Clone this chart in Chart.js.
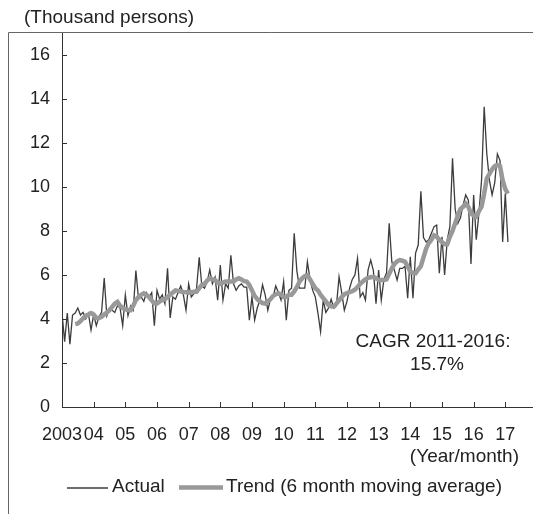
<!DOCTYPE html>
<html>
<head>
<meta charset="utf-8">
<script src="https://cdn.jsdelivr.net/npm/chart.js@4/dist/chart.umd.min.js"></script>
<style>
  body { margin: 0; background: #fff; }
  canvas { display: block; }
</style>
</head>
<body>
<canvas id="chart" width="533" height="514"></canvas>
<script>
// year tick labels (one per January, starting 2003)
const years = ['2003', '04', '05', '06', '07', '08', '09', '10', '11', '12', '13', '14', '15', '16', '17'];
const yTicks = [0, 2, 4, 6, 8, 10, 12, 14, 16];

// monthly actual values, thousand persons (Jan 2003 - Feb 2017)
const actual = [
    4.27, 2.97, 4.27, 2.86, 4.18, 4.27, 4.5, 4.18, 4.3, 4.0, 4.25, 3.5,
    4.2, 3.7, 4.1, 4.3, 5.86, 4.15, 4.5, 4.4, 4.3, 4.6, 4.5, 3.7,
    5.1, 4.15, 4.6, 4.4, 6.2, 4.9, 5.0, 4.8, 5.2, 5.0, 5.2, 3.7,
    5.3, 4.9, 5.1, 4.7, 6.3, 4.05, 5.0, 4.9, 5.2, 5.5, 5.1, 4.4,
    5.6, 5.0, 5.15, 5.4, 6.8, 5.5, 5.4, 5.7, 6.23, 5.6, 5.9, 4.86,
    6.45, 4.86, 5.6, 5.4, 6.9, 5.6, 5.3, 5.5, 5.6, 5.45, 5.45, 3.95,
    5.0, 3.95, 4.5, 4.86, 5.55, 5.1, 4.4, 4.9, 5.0, 5.5, 5.2, 4.86,
    5.7, 3.95, 5.3, 5.4, 7.9, 6.2, 5.4, 5.4, 5.4, 6.6, 5.8, 5.3,
    5.0, 4.27, 3.42, 4.86, 4.3, 4.5, 4.9, 4.5, 4.6, 5.92, 5.2, 4.4,
    4.8, 5.4, 5.8, 6.0, 6.76, 5.0, 5.2, 4.86, 6.23, 6.68, 6.2, 4.7,
    6.23, 4.86, 5.8, 6.1, 8.35, 6.6, 6.2, 5.77, 6.3, 6.3, 6.4, 4.94,
    6.83, 4.94, 7.0, 7.36, 9.8, 7.7, 7.5, 7.6, 7.9, 8.2, 8.27, 6.08,
    7.74, 6.0, 7.6, 8.2, 11.3, 9.0, 8.35, 8.6, 9.18, 9.64, 9.4, 6.5,
    9.64, 7.6, 8.8, 10.3, 13.65, 11.5, 10.3, 9.64, 10.2, 11.5, 11.2, 7.5,
    9.7, 7.5
];

// 6 month moving average (first five months empty)
const trend = [
    null, null, null, null, null, 3.77, 3.8, 3.9, 4.03, 4.15, 4.2, 4.27,
    4.2, 4.05, 4.05, 4.1, 4.2, 4.3, 4.4, 4.55, 4.7, 4.78, 4.6, 4.5,
    4.45, 4.4, 4.4, 4.6, 4.86, 5.0, 5.1, 5.17, 5.1, 5.0, 4.85, 4.7,
    4.7, 4.8, 4.86, 4.9, 5.0, 5.1, 5.2, 5.3, 5.28, 5.25, 5.23, 5.22,
    5.2, 5.22, 5.24, 5.24, 5.4, 5.55, 5.6, 5.75, 5.85, 5.8, 5.77, 5.65,
    5.6, 5.65, 5.7, 5.7, 5.7, 5.7, 5.8, 5.85, 5.8, 5.72, 5.7, 5.55,
    5.3, 5.05, 4.9, 4.8, 4.72, 4.7, 4.8, 4.9, 5.05, 5.12, 5.18, 5.1,
    5.0, 5.0, 5.1, 5.1, 5.25, 5.45, 5.7, 5.85, 5.95, 6.0, 5.8, 5.6,
    5.4, 5.3, 5.1, 4.95, 4.8, 4.64, 4.58, 4.56, 4.7, 4.85, 5.0, 5.12,
    5.18, 5.22, 5.26, 5.33, 5.45, 5.6, 5.7, 5.8, 5.87, 5.9, 5.92, 5.85,
    5.78, 5.77, 5.77, 5.8, 6.05, 6.3, 6.5, 6.62, 6.68, 6.65, 6.6, 6.4,
    6.15, 6.1, 6.08, 6.25, 6.4, 6.8, 7.2, 7.45, 7.6, 7.8, 7.75, 7.6,
    7.5, 7.4, 7.4, 7.74, 8.0, 8.35, 8.7, 9.0, 9.1, 9.25, 9.1, 8.8,
    8.7, 8.65, 8.9, 9.1, 9.7, 10.4, 10.6, 10.8, 10.95, 11.0, 10.95, 10.3,
    9.9, 9.7
];

const FONT = '"Liberation Sans", Arial, sans-serif';
const TEXT = '#222';
const ACTUAL_COLOR = '#3c3c3c';
const TREND_COLOR = '#999999';

// white background, frame, inward ticks, notes and legend
const decor = {
    id: 'decor',
    beforeDraw(chart) {
        const ctx = chart.ctx;
        ctx.save();
        ctx.fillStyle = '#fff';
        ctx.fillRect(0, 0, chart.width, chart.height);
        ctx.restore();
    },
    afterDraw(chart) {
        const { ctx, scales: { x, y } } = chart;
        ctx.save();

        // outer frame (open at right and bottom)
        ctx.strokeStyle = '#666';
        ctx.lineWidth = 1;
        ctx.beginPath();
        ctx.moveTo(8.5, 514);
        ctx.lineTo(8.5, 32.5);
        ctx.lineTo(533, 32.5);
        ctx.stroke();

        // tick marks pointing into the plot
        ctx.strokeStyle = '#333';
        ctx.beginPath();
        yTicks.forEach(v => {
            const py = Math.round(y.getPixelForValue(v)) + 0.5;
            ctx.moveTo(x.left, py);
            ctx.lineTo(x.left + 5, py);
        });
        years.forEach((_, i) => {
            const px = Math.round(x.getPixelForValue(i * 12)) + 0.5;
            ctx.moveTo(px, y.bottom);
            ctx.lineTo(px, y.bottom - 5);
        });
        ctx.stroke();

        ctx.fillStyle = TEXT;
        ctx.font = '19px ' + FONT;
        ctx.textBaseline = 'alphabetic';

        ctx.textAlign = 'left';
        ctx.fillText('(Thousand persons)', 24, 23);

        ctx.textAlign = 'right';
        ctx.fillText('(Year/month)', 519, 462);

        ctx.textAlign = 'center';
        ctx.fillText('CAGR 2011-2016:', 433, 347);
        ctx.fillText('15.7%', 437, 370);

        // legend
        ctx.lineCap = 'butt';
        ctx.strokeStyle = ACTUAL_COLOR;
        ctx.lineWidth = 1.3;
        ctx.beginPath();
        ctx.moveTo(67, 488);
        ctx.lineTo(108, 488);
        ctx.stroke();
        ctx.strokeStyle = TREND_COLOR;
        ctx.lineWidth = 4.5;
        ctx.beginPath();
        ctx.moveTo(179, 487.5);
        ctx.lineTo(223, 487.5);
        ctx.stroke();
        ctx.textAlign = 'left';
        ctx.fillText('Actual', 112, 492);
        ctx.fillText('Trend (6 month moving average)', 226, 492);

        ctx.restore();
    }
};

const ctx = document.getElementById('chart').getContext('2d');
new Chart(ctx, {
    type: 'line',
    data: {
        datasets: [{
            label: 'Trend (6 month moving average)',
            data: trend.map((v, i) => ({ x: i, y: v })),
            borderColor: TREND_COLOR,
            borderWidth: 4.5,
            pointRadius: 0,
            tension: 0,
            order: 0
        }, {
            label: 'Actual',
            data: actual.map((v, i) => ({ x: i, y: v })),
            borderColor: ACTUAL_COLOR,
            borderWidth: 1.3,
            pointRadius: 0,
            tension: 0,
            order: 1
        }]
    },
    options: {
        responsive: false,
        animation: false,
        devicePixelRatio: 1,
        layout: { padding: { left: 29, right: 0, top: 33, bottom: 68 } },
        scales: {
            x: {
                type: 'linear',
                min: 0,
                max: 178.5,
                afterBuildTicks: scale => {
                    scale.ticks = years.map((_, i) => ({ value: i * 12 }));
                },
                afterFit: scale => {
                    scale.height = 39;
                    scale.paddingLeft = 0;
                    scale.paddingRight = 0;
                },
                ticks: {
                    autoSkip: false,
                    maxRotation: 0,
                    padding: 17,
                    color: TEXT,
                    font: { family: FONT, size: 18 },
                    callback: value => years[value / 12]
                },
                grid: { display: false, drawTicks: false },
                border: { display: true, color: '#333', width: 1 }
            },
            y: {
                min: 0,
                max: 17,
                afterBuildTicks: scale => {
                    scale.ticks = yTicks.map(v => ({ value: v }));
                },
                afterFit: scale => {
                    scale.width = 33;
                    scale.paddingTop = 0;
                    scale.paddingBottom = 0;
                },
                ticks: {
                    padding: 12,
                    color: TEXT,
                    font: { family: FONT, size: 18 }
                },
                grid: { display: false, drawTicks: false },
                border: { display: true, color: '#333', width: 1 }
            }
        },
        plugins: {
            legend: { display: false },
            tooltip: { enabled: false }
        }
    },
    plugins: [decor]
});
</script>
</body>
</html>
